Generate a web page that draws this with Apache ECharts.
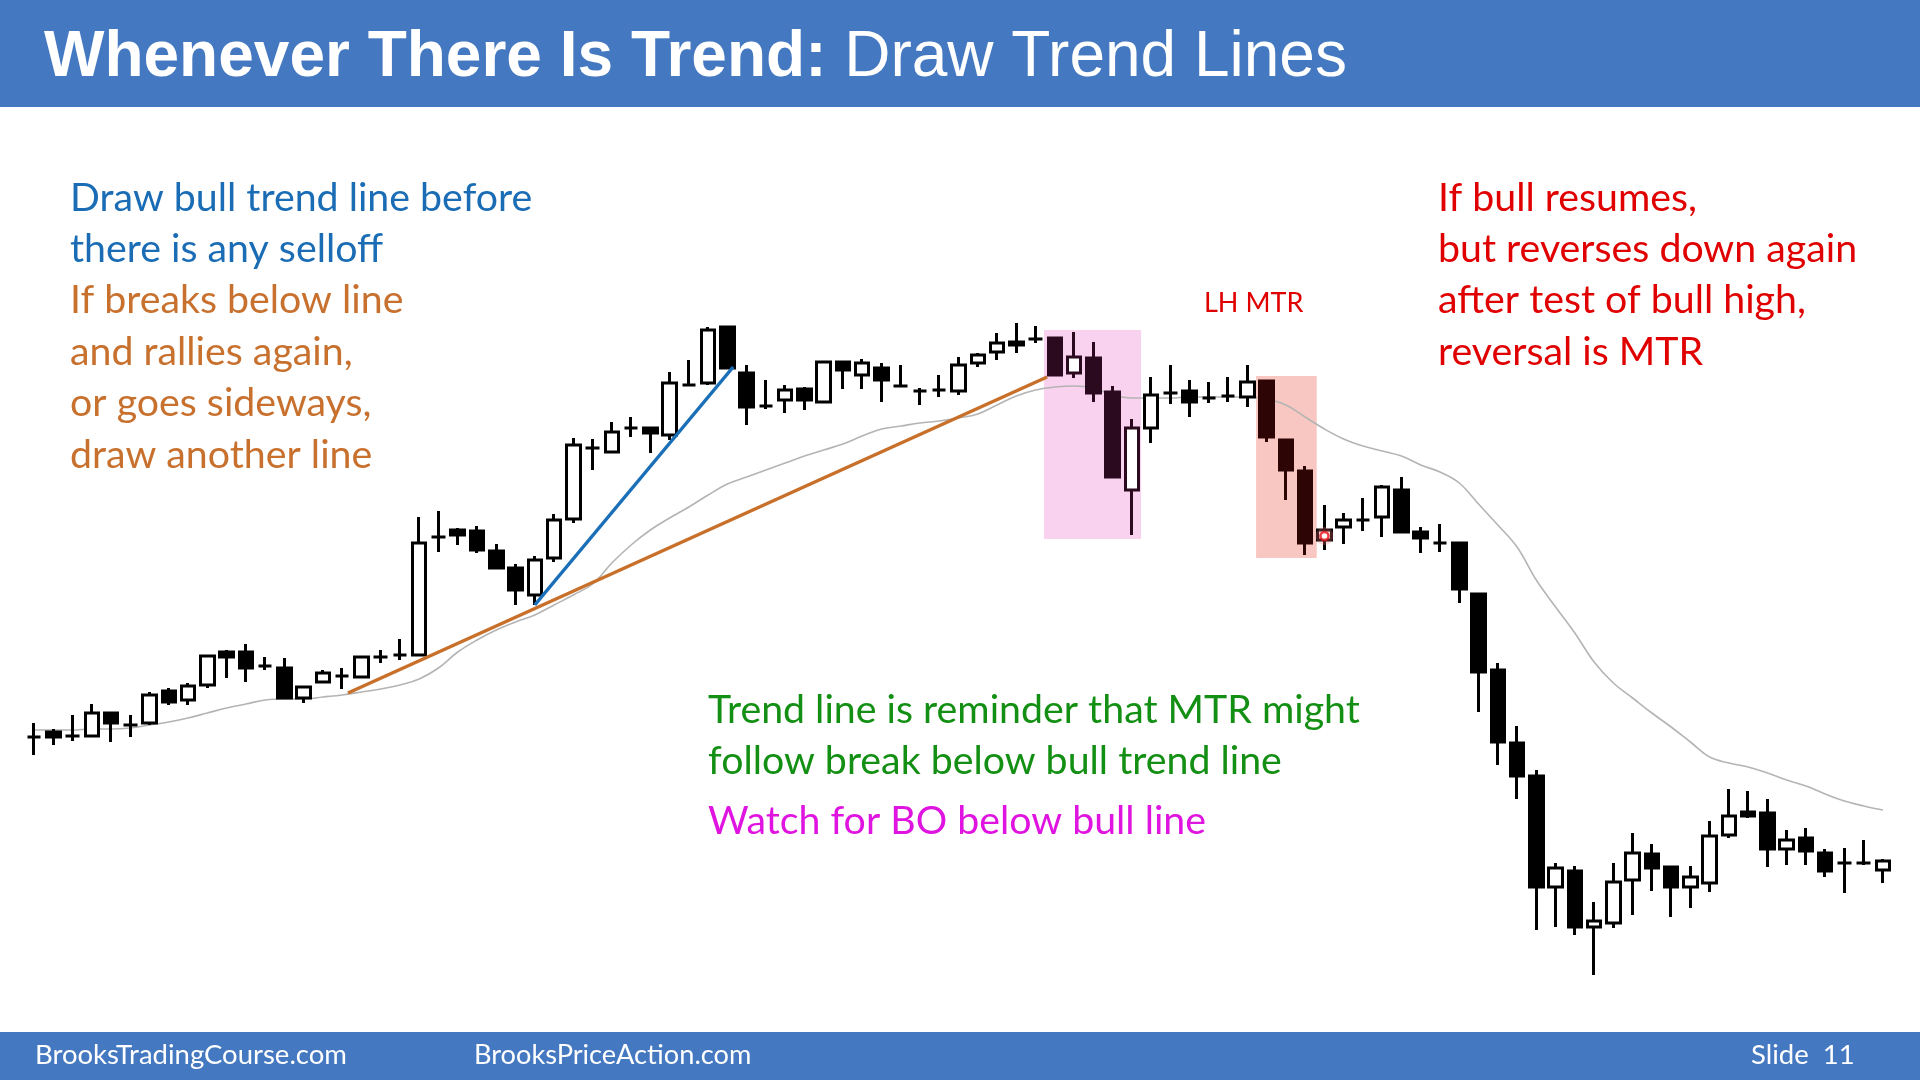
<!DOCTYPE html>
<html><head><meta charset="utf-8">
<script src="https://cdn.jsdelivr.net/npm/echarts@6/dist/echarts.min.js"></script>
<style>html,body{margin:0;padding:0;background:#fff}#c{width:1920px;height:1080px}</style>
</head><body><div id="c"></div>
<script>
// ---- data (price units are arbitrary chart units) ----
const bars = ['1','2','3','4','5','6','7','8','9','10','11','12','13','14','15','16','17','18','19','20','21','22','23','24','25','26','27','28','29','30','31','32','33','34','35','36','37','38','39','40','41','42','43','44','45','46','47','48','49','50','51','52','53','54','55','56','57','58','59','60','61','62','63','64','65','66','67','68','69','70','71','72','73','74','75','76','77','78','79','80','81','82','83','84','85','86','87','88','89','90','91','92','93','94','95','96','97'];
const opens  = [26.3,26.8,26.4,26.4,28.7,27.5,27.7,30.9,30.0,31.5,34.8,34.8,33.4,33.2,30.2,31.8,32.4,32.3,34.3,34.5,34.5,46.3,47.0,46.9,44.9,43.2,40.5,44.2,48.1,55.2,54.8,57.2,57.2,56.5,61.5,61.7,67.3,62.7,59.4,60.0,61.1,59.8,63.8,62.5,63.2,61.4,60.9,61.0,60.9,63.7,64.8,65.8,66.1,66.2,62.7,64.2,60.8,51.0,57.2,60.7,60.9,60.2,60.4,60.3,61.9,56.0,52.9,46.0,47.3,48.0,48.3,51.0,46.8,45.7,45.7,40.6,33.0,25.7,22.4,11.3,12.9,7.3,7.7,12.0,14.6,13.3,11.3,11.7,16.5,18.8,18.7,15.1,16.2,14.7,13.7,13.7,13.0];
const closes = [26.3,26.3,26.4,28.7,27.7,27.5,30.5,29.8,31.4,34.4,34.3,33.2,33.4,30.2,31.3,32.7,32.4,34.3,34.3,34.5,45.7,46.3,46.5,45.0,43.2,41.0,44.0,48.0,55.5,55.2,56.8,57.2,56.7,61.7,61.5,67.0,63.2,59.3,59.4,61.0,60.0,63.8,63.0,63.7,62.0,61.4,60.9,61.0,63.5,64.5,65.7,65.5,66.1,62.5,64.3,60.7,52.3,57.2,60.5,60.7,59.8,60.2,60.4,61.8,56.3,53.0,45.7,47.0,48.0,48.0,51.3,46.8,46.2,45.7,41.1,32.8,25.8,22.4,11.3,13.2,7.3,7.9,11.8,14.7,13.2,11.3,12.3,16.4,18.4,18.4,15.1,16.0,14.9,12.9,13.7,13.7,13.9];
const lows   = [24.5,25.5,25.9,26.4,25.8,26.3,27.5,29.5,29.5,31.2,32.2,31.8,33.0,30.2,29.7,31.8,31.1,32.3,33.7,34.0,34.4,44.8,45.5,44.7,43.2,39.5,39.5,43.8,47.7,53.0,54.8,56.3,54.7,56.0,61.4,61.5,63.2,57.5,59.1,58.7,59.0,59.8,61.1,61.1,59.8,61.3,59.5,60.3,60.5,63.3,64.0,64.7,65.7,62.5,62.2,59.8,52.3,46.5,55.7,59.6,58.3,59.7,59.8,59.3,55.8,50.0,44.5,45.0,45.6,46.9,46.3,46.8,44.7,44.8,39.7,28.8,23.5,20.1,7.0,7.3,6.5,2.5,7.2,8.5,10.9,8.3,9.2,10.8,16.2,18.2,13.3,13.5,13.5,12.3,10.7,13.5,11.7];
const highs  = [27.7,27.1,28.5,29.6,28.8,28.5,30.8,31.2,31.7,34.5,35.0,35.6,34.3,34.2,31.3,33.0,33.2,34.3,35.0,36.1,48.3,48.9,47.2,47.4,45.6,43.6,44.4,48.6,56.2,56.1,57.8,58.3,57.2,62.8,64.0,67.3,67.3,63.5,62.0,61.5,61.3,63.9,63.9,64.1,63.7,63.5,61.2,62.5,64.3,64.7,66.7,67.7,67.4,66.3,66.8,65.8,61.4,58.1,62.3,63.5,62.0,61.8,62.3,63.5,61.9,56.0,53.4,49.5,48.7,50.2,51.5,52.3,47.3,47.6,45.7,40.6,33.7,27.4,23.0,13.7,13.4,9.8,13.7,16.7,15.6,13.3,13.4,17.9,21.1,20.9,20.1,17.0,17.2,15.1,15.2,16.0,14.1];
const maValues = [27.0,27.0,27.0,27.1,27.1,27.2,27.5,27.8,28.2,28.7,29.2,29.6,30.0,30.1,30.1,30.3,30.5,30.8,31.1,31.5,32.1,33.2,34.8,36.0,37.0,37.8,38.5,39.5,40.5,41.6,43.7,45.5,47.0,48.2,49.3,50.5,51.6,52.3,53.0,53.7,54.4,55.0,55.6,56.4,57.1,57.4,57.7,57.9,58.2,58.6,59.5,60.4,61.0,61.3,61.4,61.2,60.5,60.2,60.2,60.2,60.3,60.3,60.3,60.3,60.1,59.5,58.3,57.1,56.1,55.4,54.9,54.4,53.5,52.8,51.7,49.6,47.5,45.3,42.0,39.3,36.7,33.8,31.7,30.2,28.7,27.3,25.8,24.3,23.7,23.3,22.7,22.0,21.4,20.6,19.9,19.4,19.0];
const blueTrend   = [[26, 39.5], [36.3, 63.3]];
const orangeTrend = [[16.3, 30.7], [52.6, 62.3]];
// zones: [fromIndex, toIndex, top, bottom]
const zones = [[52.44, 57.48, 67.0, 46.1], [63.45, 66.6, 62.4, 44.2]];
const zoneFills = ['#f9d2ef', '#f8c7c1'];
const zoneCandleTint = [[53, 57, '#2b0a1f'], [64, 66, '#2e0505']];
const markerPoint = [[67, 46.4]];

// ---- build ----
const candleData = opens.map((o, i) => {
  let tint = null;
  zoneCandleTint.forEach(z => { if (i >= z[0] && i <= z[1]) tint = z[2]; });
  const item = { value: [o, closes[i], lows[i], highs[i]] };
  if (tint) item.itemStyle = { color0: tint, borderColor: tint, borderColor0: tint, borderColorDoji: tint };
  return item;
});

const FONT = 'Lato';
const BODY = 39.3;
const LEFT_Y0 = 198, STEP = 51.4;
function txt(x, y, s, size, color) {
  return { type: 'text', x: x, y: y, z: 11, style: { text: s, fontFamily: FONT, fontSize: size, fill: color, verticalAlign: 'middle' } };
}
const chart = echarts.init(document.getElementById('c'), null, { renderer: 'canvas' });
chart.setOption({
  animation: false,
  backgroundColor: '#ffffff',
  grid: { left: 24.37, right: 27.37, top: 0, bottom: 80 },
  xAxis: [
    { type: 'category', data: bars, show: false, boundaryGap: true },
    { type: 'value', min: -0.5, max: 96.5, show: false }
  ],
  yAxis: { type: 'value', min: 0, max: 100, show: false },
  series: [
    {
      type: 'custom', xAxisIndex: 1, z: 1, silent: true,
      data: zones.map((z, k) => [z[0], z[1], z[2], z[3], k]),
      renderItem: (params, api) => {
        const p0 = api.coord([api.value(0), api.value(2)]);
        const p1 = api.coord([api.value(1), api.value(3)]);
        return { type: 'rect', shape: { x: p0[0], y: p0[1], width: p1[0] - p0[0], height: p1[1] - p0[1] },
                 style: { fill: zoneFills[api.value(4)] } };
      }
    },
    {
      type: 'line', data: maValues, xAxisIndex: 0, z: 2, smooth: 0.4, symbol: 'none',
      lineStyle: { color: '#b4b4b4', width: 1.6 }
    },
    {
      type: 'candlestick', data: candleData, xAxisIndex: 0, z: 3, barWidth: 14,
      itemStyle: { color: '#ffffff', color0: '#000000', borderColor: '#000000', borderColor0: '#000000', borderColorDoji: '#000000', borderWidth: 3 }
    },
    {
      type: 'line', data: orangeTrend, xAxisIndex: 1, z: 4, symbol: 'none',
      lineStyle: { color: '#c8702a', width: 3.5 }
    },
    {
      type: 'line', data: blueTrend, xAxisIndex: 1, z: 4, symbol: 'none',
      lineStyle: { color: '#1a6fb8', width: 3.5 }
    },
    {
      type: 'scatter', data: markerPoint, xAxisIndex: 1, z: 5, symbolSize: 18,
      itemStyle: { color: 'rgba(255,120,120,0.35)' }
    },
    {
      type: 'scatter', data: markerPoint, xAxisIndex: 1, z: 6, symbolSize: 8,
      itemStyle: { color: '#ffffff', borderColor: '#e8101a', borderWidth: 2.5 }
    }
  ],
  graphic: [
    { type: 'rect', shape: { x: 0, y: 0, width: 1920, height: 107 }, style: { fill: '#4478c1' }, z: 10 },
    { type: 'rect', shape: { x: 0, y: 1032, width: 1920, height: 48 }, style: { fill: '#4478c1' }, z: 10 },
    { type: 'text', x: 44, y: 58, z: 11, style: {
        text: '{b|Whenever There Is Trend:} {n|Draw Trend Lines}',
        verticalAlign: 'middle',
        rich: {
          b: { fontFamily: 'Liberation Sans', fontSize: 64, fontWeight: 'bold', fill: '#ffffff' },
          n: { fontFamily: 'Liberation Sans', fontSize: 64, fontWeight: 'normal', fill: '#ffffff' }
        },
        fontFamily: 'Liberation Sans', fontSize: 64, fill: '#ffffff' } },
    txt(35, 1055, 'BrooksTradingCourse.com', 27.5, '#ffffff'),
    txt(474, 1055, 'BrooksPriceAction.com', 27.2, '#ffffff'),
    txt(1751, 1055, 'Slide  11', 27.5, '#ffffff'),

    txt(70, LEFT_Y0, 'Draw bull trend line before', BODY, '#1a6db5'),
    txt(70, LEFT_Y0 + STEP, 'there is any selloff', BODY, '#1a6db5'),
    txt(70, LEFT_Y0 + STEP * 2, 'If breaks below line', BODY, '#c8712e'),
    txt(70, LEFT_Y0 + STEP * 3, 'and rallies again,', BODY, '#c8712e'),
    txt(70, LEFT_Y0 + STEP * 4, 'or goes sideways,', BODY, '#c8712e'),
    txt(70, LEFT_Y0 + STEP * 5, 'draw another line', BODY, '#c8712e'),

    txt(1438, LEFT_Y0, 'If bull resumes,', BODY, '#e00000'),
    txt(1438, LEFT_Y0 + STEP, 'but reverses down again', BODY, '#e00000'),
    txt(1438, LEFT_Y0 + STEP * 2, 'after test of bull high,', BODY, '#e00000'),
    txt(1438, LEFT_Y0 + STEP * 3, 'reversal is MTR', BODY, '#e00000'),
    txt(1204, 303, 'LH MTR', 27, '#e00000'),

    txt(708, 710, 'Trend line is reminder that MTR might', BODY, '#138f13'),
    txt(708, 761, 'follow break below bull trend line', BODY, '#138f13'),
    txt(708, 821, 'Watch for BO below bull line', BODY, '#e014e0')
  ]
});
</script></body></html>
